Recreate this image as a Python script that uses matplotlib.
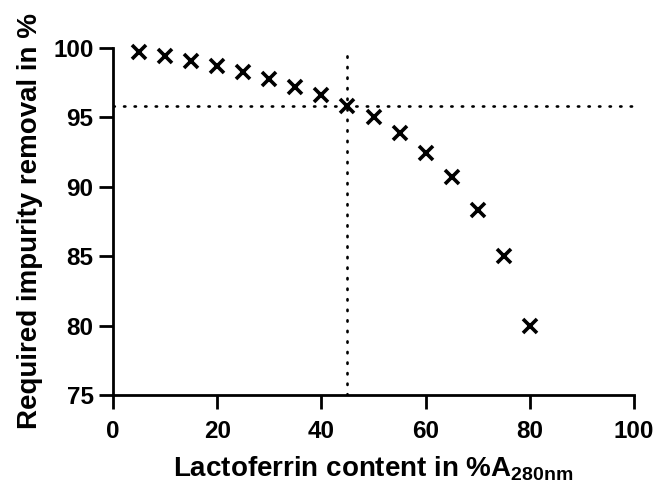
import matplotlib
matplotlib.use("Agg")
import matplotlib.pyplot as plt

# Daten
lf_content = [5, 10, 15, 20, 25, 30, 35, 40, 45, 50, 55, 60, 65, 70, 75, 80]
removal = [99.7, 99.4, 99.05, 98.7, 98.25, 97.8, 97.2, 96.6, 95.85,
           95.0, 93.85, 92.45, 90.7, 88.3, 85.0, 80.0]
ref_x = 45
ref_y = 95.8
x_ticks = [0, 20, 40, 60, 80, 100]
y_ticks = [75, 80, 85, 90, 95, 100]

plt.rcParams["font.family"] = ["Liberation Sans", "DejaVu Sans"]
plt.rcParams["font.weight"] = "bold"
plt.rcParams["mathtext.fontset"] = "custom"
plt.rcParams["mathtext.rm"] = "Liberation Sans:bold"
plt.rcParams["mathtext.bf"] = "Liberation Sans:bold"
plt.rcParams["mathtext.default"] = "bf"

fig = plt.figure(figsize=(6.57, 4.87), dpi=100)
ax = fig.add_axes([0.172, 0.189, 0.793, 0.7125])

ax.plot(lf_content, removal, linestyle="none", marker="x", color="black",
        markersize=10, markeredgewidth=2.6, clip_on=False, zorder=3)

# Hilfslinien
ax.axvline(ref_x, color="black", linewidth=1.9, linestyle=(0, (0.5, 3.5)),
           dash_capstyle="round")
ax.axhline(ref_y, color="black", linewidth=1.9, linestyle=(0, (0.5, 3.5)),
           dash_capstyle="round")

ax.set_xlim(0, 100)
ax.set_ylim(75, 100)
ax.set_xticks(x_ticks)
ax.set_yticks(y_ticks)

for side in ["top", "right"]:
    ax.spines[side].set_visible(False)
for side in ["left", "bottom"]:
    ax.spines[side].set_linewidth(2)

ax.tick_params(axis="both", length=10, width=2, labelsize=17.5)
ax.tick_params(axis="x", pad=8)
ax.tick_params(axis="y", pad=4)
for lab in ax.get_xticklabels() + ax.get_yticklabels():
    lab.set_fontweight("bold")

ax.set_xlabel("Lactoferrin content in %A$_{280nm}$", fontsize=20,
              fontweight="bold", labelpad=8)
ax.set_ylabel("Required impurity removal in %", fontsize=20,
              fontweight="bold", labelpad=7)

fig.savefig("out.png", dpi=100)
plt.close(fig)
